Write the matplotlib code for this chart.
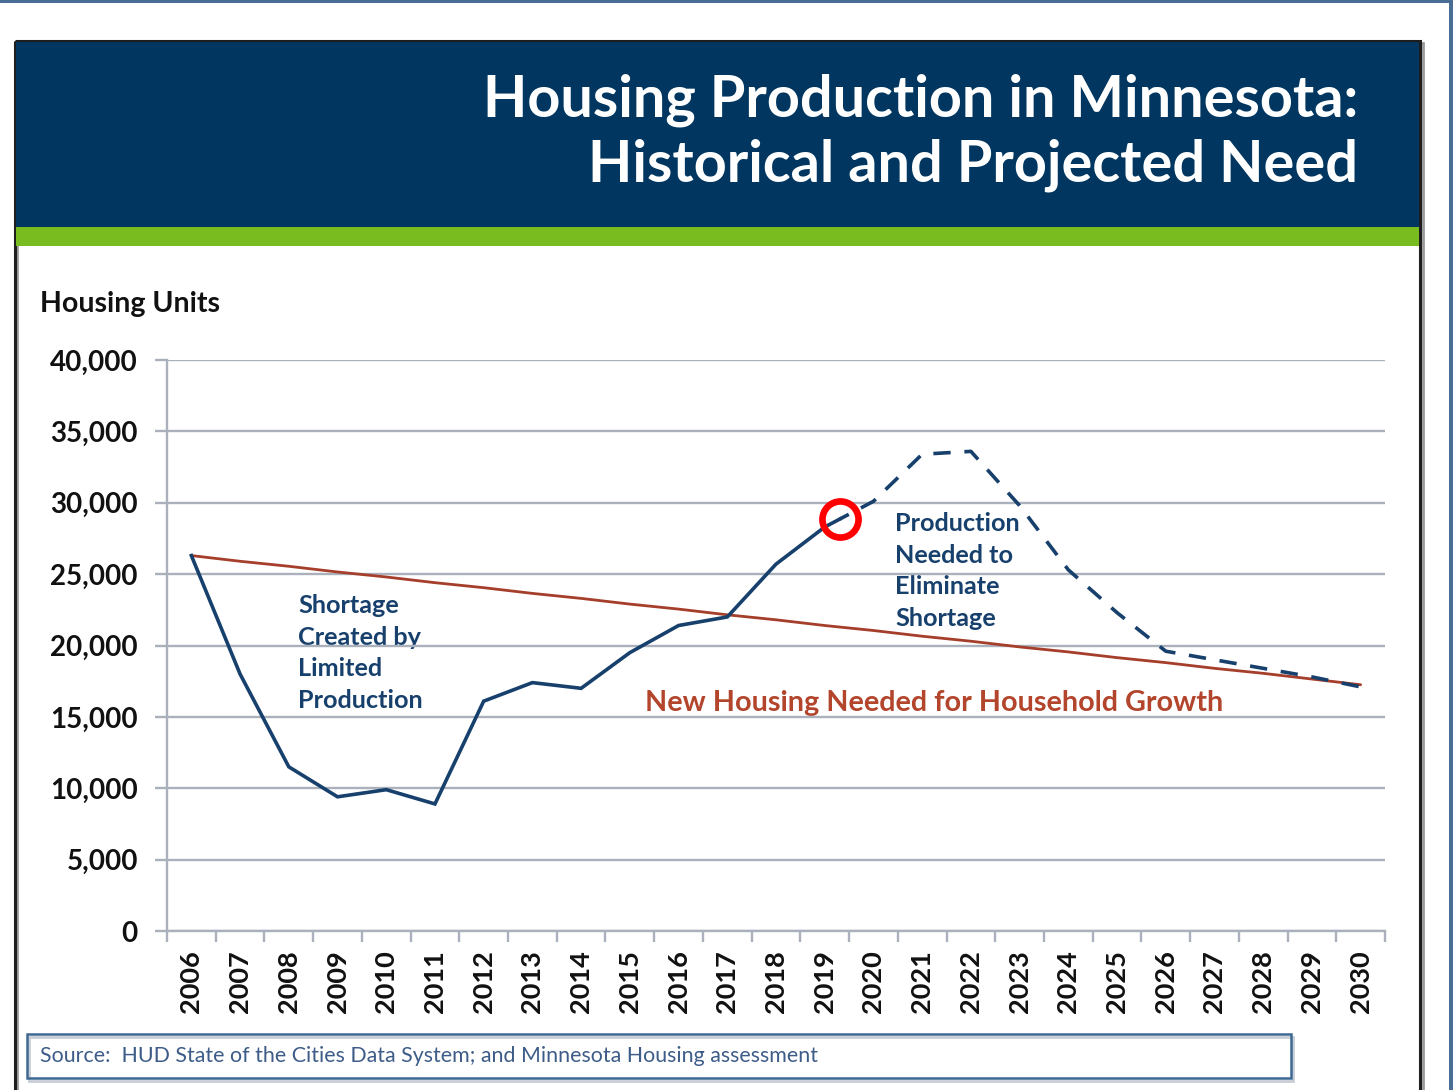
import numpy as np
import matplotlib
matplotlib.use("Agg")
import matplotlib.pyplot as plt
from matplotlib.patches import Rectangle
from matplotlib.ticker import FuncFormatter, FixedLocator, NullFormatter

# ---------------- data ----------------
years = [str(y) for y in range(2006, 2031)]
actual_years = [str(y) for y in range(2006, 2020)]
actual_production = [26300, 18000, 11500, 9400, 9900, 8900, 16100, 17400, 17000,
                     19500, 21400, 22000, 25700, 28300]
needed_years = [str(y) for y in range(2019, 2031)]
needed_production = [28300, 30100, 33400, 33600, 29800, 25300, 22300, 19600,
                     19000, 18400, 17800, 17100]
household_growth = [26300, 25900, 25550, 25150, 24800, 24400, 24050, 23650, 23300,
                    22900, 22550, 22150, 21800, 21400, 21050, 20650, 20300, 19900,
                    19550, 19150, 18800, 18400, 18050, 17650, 17250]
yticks = [0, 5000, 10000, 15000, 20000, 25000, 30000, 35000, 40000]

title_lines = ["Housing Production in Minnesota:", "Historical and Projected Need"]
ylabel = "Housing Units"
note_shortage = "Shortage\nCreated by\nLimited\nProduction"
note_needed = "Production\nNeeded to\nEliminate\nShortage"
note_growth = "New Housing Needed for Household Growth"
source_text = "Source:  HUD State of the Cities Data System; and Minnesota Housing assessment"

# ---------------- style ----------------
W, H = 1453, 1090
FONT = ["Lato", "DejaVu Sans"]
plt.rcParams["font.family"] = FONT
NAVY = "#00365f"
GREEN = "#78bc20"
LINE_BLUE = "#17406c"
LINE_RED = "#a53e2a"
TEXT_RED = "#b2452b"
GRID = "#aab0bc"

fig = plt.figure(figsize=(W / 100, H / 100), dpi=100)
fig.patch.set_facecolor("white")

# background "canvas" axes in pixel coordinates
bg = fig.add_axes([0, 0, 1, 1], zorder=0)
bg.set_xlim(0, W)
bg.set_ylim(H, 0)
bg.axis("off")

# outer steel-blue strips
bg.add_patch(Rectangle((0, 0), W, 3, color="#4a6d96", lw=0))
bg.add_patch(Rectangle((1449, 0), 4, H, color="#4a6d96", lw=0))
# frame shadow + frame
bg.add_patch(Rectangle((17, 43), 1406, 1100, fill=False, ec="#9a9a9a", lw=2))
bg.add_patch(Rectangle((15, 41), 1405, 1100, fill=False, ec="#1e1e1e", lw=2.2))
# header band and green stripe
bg.add_patch(Rectangle((16, 42), 1403, 185, color=NAVY, lw=0))
bg.add_patch(Rectangle((16, 227), 1403, 19, color=GREEN, lw=0))

bg.text(1358, 100, title_lines[0], color="white", fontsize=41.5, fontweight="bold",
        ha="right", va="center")
bg.text(1358, 165, title_lines[1], color="white", fontsize=41.5, fontweight="bold",
        ha="right", va="center")

bg.text(40, 304, ylabel, color="#111111", fontsize=20.5, fontweight="bold",
        ha="left", va="center")

# annotations
bg.text(298, 653, note_shortage, color=LINE_BLUE, fontsize=18.2, fontweight="bold",
        ha="left", va="center", linespacing=1.45)
bg.text(895, 571, note_needed, color=LINE_BLUE, fontsize=18.2, fontweight="bold",
        ha="left", va="center", linespacing=1.45)
bg.text(645, 703, note_growth, color=TEXT_RED, fontsize=20.7, fontweight="bold",
        ha="left", va="center")

# source box
bg.add_patch(Rectangle((29, 1037), 1264, 44, fill=False, ec="#c9ced6", lw=2))
bg.add_patch(Rectangle((27, 1034), 1264, 44, fill=False, ec="#3c6893", lw=1.8))
bg.text(40, 1056, source_text, color="#3d5c88", fontsize=15.4, ha="left", va="center")

# ---------------- main chart ----------------
x0, x1, ytop, ybot = 167, 1385, 360, 931
ax = fig.add_axes([x0 / W, 1 - ybot / H, (x1 - x0) / W, (ybot - ytop) / H], zorder=2)
ax.patch.set_alpha(0)

idx = {y: i for i, y in enumerate(years)}
xa = [idx[y] for y in actual_years]
xn = [idx[y] for y in needed_years]
xall = np.arange(len(years))

# split point where the red circle sits (part way from 2019 toward 2020)
circle_frac = 0.31
cx = xn[0] + circle_frac
cy = np.interp(cx, xn, needed_production)

ax.plot(xall, household_growth, color=LINE_RED, lw=2.0, zorder=3, solid_capstyle="round")
ax.plot(xa + [cx], actual_production + [cy], color=LINE_BLUE, lw=2.6, zorder=4,
        solid_joinstyle="miter")
xn_d = [cx] + xn[1:]
yn_d = [cy] + needed_production[1:]
ax.plot(xn_d, yn_d, color=LINE_BLUE, lw=2.6, zorder=4, linestyle=(2.0, (4.8, 3.8)),
        dash_capstyle="butt")
ax.plot([cx], [cy], marker="o", ms=26, mfc="none", mec="#ff0000", mew=4.8, zorder=6)

ax.set_xlim(-0.5, len(years) - 0.5)
ax.set_ylim(0, 40000)

ax.set_yticks(yticks)
ax.yaxis.set_major_formatter(FuncFormatter(lambda v, p: f"{int(v):,}"))
ax.grid(axis="y", color=GRID, lw=1.7, zorder=1)
ax.tick_params(axis="y", length=9, width=1.7, color=GRID, pad=12, labelsize=20)
for lab in ax.get_yticklabels():
    lab.set_fontweight("bold")
    lab.set_color("#111111")

ax.xaxis.set_major_locator(FixedLocator(xall))
ax.set_xticklabels(years, rotation=90, fontsize=19.5, fontweight="bold", color="#111111")
ax.xaxis.set_minor_locator(FixedLocator(np.arange(-0.5, len(years), 1.0)))
ax.xaxis.set_minor_formatter(NullFormatter())
ax.tick_params(axis="x", which="major", length=0, pad=14)
ax.tick_params(axis="x", which="minor", length=8, width=1.7, color=GRID)

for s in ["top", "right"]:
    ax.spines[s].set_visible(False)
for s in ["left", "bottom"]:
    ax.spines[s].set_color(GRID)
    ax.spines[s].set_linewidth(1.7)
    ax.spines[s].set_zorder(2)

fig.savefig("out.png", dpi=100)
